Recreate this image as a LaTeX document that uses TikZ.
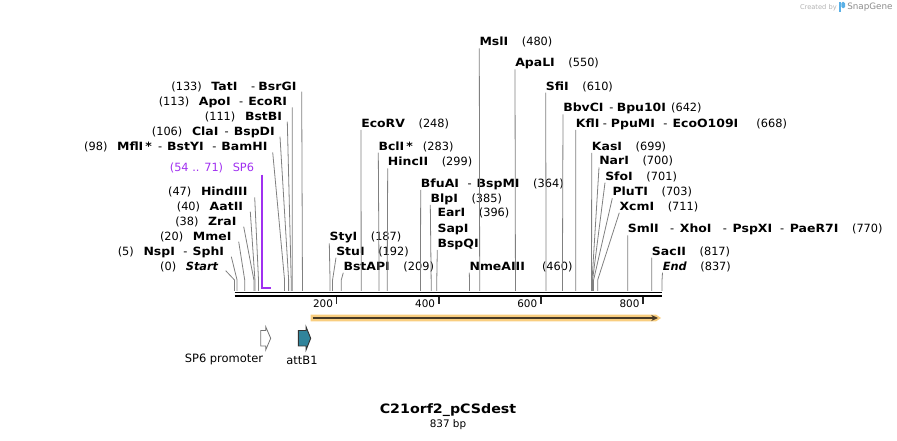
\documentclass[tikz,border=0pt]{standalone}
\usepackage{fontspec}
\setmainfont{DejaVu Sans}[BoldFeatures={FakeStretch=1.1}]
\usetikzlibrary{calc,arrows.meta}

\newcommand{\bp}[1]{234.5+0.5108*#1}
\newcommand{\enz}[1]{\textbf{#1}}
\newcommand{\esep}{\hspace{0.75em}-\hspace{0.45em}}
\newcommand{\atbp}[1]{\hspace{1.2em}(#1)}
\newcommand{\lbp}[1]{(#1)\hspace{0.85em}}

\definecolor{sitegray}{RGB}{128,128,128}
\definecolor{primerpurple}{RGB}{160,48,240}
\definecolor{orfband}{RGB}{249,206,128}
\definecolor{orfdark}{RGB}{72,58,38}
\definecolor{attteal}{RGB}{49,132,155}
\definecolor{snapblue}{RGB}{90,176,230}

\tikzset{
  enzR/.style={anchor=west, inner sep=0pt, text height=7pt, text depth=2pt,
    font=\fontsize{8.5}{10}\selectfont},
  enzL/.style={enzR, anchor=east},
  cut/.style={draw=sitegray, line width=0.6pt},
  primer/.style={draw=primerpurple, line width=1.2pt},
  tickmark/.style={draw=black!85, line width=1.2pt},
  ticklbl/.style={anchor=east, inner sep=0pt, font=\fontsize{7.8}{9}\selectfont},
  featlbl/.style={inner sep=0pt, font=\fontsize{8.6}{10}\selectfont},
}

\begin{document}
\begin{tikzpicture}[x=0.75pt,y=-0.75pt]
  \useasboundingbox (0,0) rectangle (897,441);

  % sites on the sequence
  \coordinate (c0) at ({\bp{0}},291);
  \coordinate (c5) at ({\bp{5}},291);
  \coordinate (c20) at ({\bp{20}},291);
  \coordinate (c38) at ({\bp{38}},291);
  \coordinate (c40) at ({\bp{40}},291);
  \coordinate (c47) at ({\bp{47}},291);
  \coordinate (c54) at ({\bp{54}},288);
  \coordinate (c71) at ({\bp{71}},288);
  \coordinate (c98) at ({\bp{98}},291);
  \coordinate (c106) at ({\bp{106}},291);
  \coordinate (c111) at ({\bp{111}},291);
  \coordinate (c113) at ({\bp{113}},291);
  \coordinate (c133) at ({\bp{133}},291);
  \coordinate (c187) at ({\bp{187}},291);
  \coordinate (c192) at ({\bp{192}},291);
  \coordinate (c209) at ({\bp{209}},291);
  \coordinate (c248) at ({\bp{248}},291);
  \coordinate (c283) at ({\bp{283}},291);
  \coordinate (c299) at ({\bp{299}},291);
  \coordinate (c364) at ({\bp{364}},291);
  \coordinate (c385) at ({\bp{385}},291);
  \coordinate (c396) at ({\bp{396}},291);
  \coordinate (c460) at ({\bp{460}},291);
  \coordinate (c480) at ({\bp{480}},291);
  \coordinate (c550) at ({\bp{550}},291);
  \coordinate (c610) at ({\bp{610}},291);
  \coordinate (c642) at ({\bp{642}},291);
  \coordinate (c668) at ({\bp{668}},291);
  \coordinate (c699) at ({\bp{699}},291);
  \coordinate (c700) at ({\bp{700}},291);
  \coordinate (c701) at ({\bp{701}},291);
  \coordinate (c703) at ({\bp{703}},291);
  \coordinate (c711) at ({\bp{711}},291);
  \coordinate (c770) at ({\bp{770}},291);
  \coordinate (c817) at ({\bp{817}},291);
  \coordinate (c837) at ({\bp{837}},291);

  % enzymes to the right of their line
  \node[enzR] (mslI) at (479.3,42.3) {\enz{MslI}\atbp{480}};
  \node[enzR] (apaLI) at (515,63.5) {\enz{ApaLI}\atbp{550}};
  \node[enzR] (sfiI) at (545.7,86.7) {\enz{SfiI}\atbp{610}};
  \node[enzR] (bbvCI) at (563,108.5) {\enz{BbvCI}\hspace{0.5em}-\hspace{0.3em}\enz{Bpu10I}\hspace{0.45em}(642)};
  \node[enzR] (kflI) at (575.7,124) {\enz{KflI}\hspace{0.3em}-\hspace{0.35em}\enz{PpuMI}\esep\enz{EcoO109I}\hspace{1.6em}(668)};
  \node[enzR] (ecoRV) at (361,124) {\enz{EcoRV}\atbp{248}};
  \node[enzR] (bclI) at (378.3,146.7) {\enz{BclI\,*}\hspace{0.9em}(283)};
  \node[enzR] (kasI) at (591.7,147) {\enz{KasI}\atbp{699}};
  \node[enzR] (hincII) at (387.7,162.3) {\enz{HincII}\atbp{299}};
  \node[enzR] (narI) at (599,161.5) {\enz{NarI}\atbp{700}};
  \node[enzR] (sfoI) at (605,176.7) {\enz{SfoI}\atbp{701}};
  \node[enzR] (bfuAI) at (420.7,184) {\enz{BfuAI}\esep\enz{BspMI}\atbp{364}};
  \node[enzR] (pluTI) at (612.3,192.3) {\enz{PluTI}\atbp{703}};
  \node[enzR] (blpI) at (430.3,199) {\enz{BlpI}\atbp{385}};
  \node[enzR] (xcmI) at (619.3,206.7) {\enz{XcmI}\atbp{711}};
  \node[enzR] (earI) at (437.3,213.5) {\enz{EarI}\atbp{396}};
  \node[enzR] (sapI) at (437.3,229) {\enz{SapI}};
  \node[enzR] (smlI) at (627.7,229.5) {\enz{SmlI}\hspace{1em}-\hspace{0.5em}\enz{XhoI}\hspace{1em}-\hspace{0.5em}\enz{PspXI}\hspace{0.7em}-\hspace{0.5em}\enz{PaeR7I}\atbp{770}};
  \node[enzR] (styI) at (329.3,237.3) {\enz{StyI}\atbp{187}};
  \node[enzR] (bspQI) at (437.3,244) {\enz{BspQI}};
  \node[enzR] (stuI) at (336,251.7) {\enz{StuI}\atbp{192}};
  \node[enzR] (sacII) at (651.7,251.7) {\enz{SacII}\atbp{817}};
  \node[enzR] (bstAPI) at (343.3,266.7) {\enz{BstAPI}\atbp{209}};
  \node[enzR] (nmeAIII) at (469.3,266.7) {\enz{NmeAIII}\hspace{1.5em}(460)};
  \node[enzR] (endL) at (662.5,266.7) {\textbf{\textit{End}}\atbp{837}};

  % enzymes to the left of their line
  \node[enzL] (tatI) at (296.7,86.7) {\lbp{133}\enz{TatI}\hspace{1.2em}-\hspace{0.3em}\enz{BsrGI}};
  \node[enzL] (apoI) at (287.3,102.3) {\lbp{113}\enz{ApoI}\esep\enz{EcoRI}};
  \node[enzL] (bstBI) at (282.3,116.7) {\lbp{111}\enz{BstBI}};
  \node[enzL] (claI) at (275,131.7) {\lbp{106}\enz{ClaI}\hspace{0.55em}-\hspace{0.45em}\enz{BspDI}};
  \node[enzL] (mflI) at (267.7,147.3) {\lbp{98}\enz{MflI\,*}\hspace{0.55em}-\hspace{0.45em}\enz{BstYI}\esep\enz{BamHI}};
  \node[enzL, text=primerpurple] (sp6) at (254.3,168.3) {\lbp{54 .. 71}SP6};
  \node[enzL] (hindIII) at (247.7,192.3) {\lbp{47}\enz{HindIII}};
  \node[enzL] (aatII) at (243.3,206.7) {\lbp{40}\enz{AatII}};
  \node[enzL] (zraI) at (236.7,221.7) {\lbp{38}\enz{ZraI}};
  \node[enzL] (mmeI) at (231.7,236.7) {\lbp{20}\enz{MmeI}};
  \node[enzL] (nspI) at (224.3,251.7) {\lbp{5}\enz{NspI}\esep\enz{SphI}};
  \node[enzL] (startL) at (218.7,266.7) {\lbp{0}\textbf{\textit{Start}}};

  % lines from the labels down to the sites
  \draw[cut] ($(mslI.west)+(0,6)$) -- ($(c480)+(0,-11)$) -- (c480);
  \draw[cut] ($(apaLI.west)+(0,6)$) -- ($(c550)+(0,-11)$) -- (c550);
  \draw[cut] ($(sfiI.west)+(0,6)$) -- ($(c610)+(0,-11)$) -- (c610);
  \draw[cut] ($(bbvCI.west)+(0,6)$) -- ($(c642)+(0,-11)$) -- (c642);
  \draw[cut] ($(kflI.west)+(0,6)$) -- ($(c668)+(0,-11)$) -- (c668);
  \draw[cut] ($(ecoRV.west)+(0,6)$) -- ($(c248)+(0,-11)$) -- (c248);
  \draw[cut] ($(bclI.west)+(0,6)$) -- ($(c283)+(0,-11)$) -- (c283);
  \draw[cut] ($(kasI.west)+(0,6)$) -- ($(c699)+(0,-11)$) -- (c699);
  \draw[cut] ($(hincII.west)+(0,6)$) -- ($(c299)+(0,-11)$) -- (c299);
  \draw[cut] ($(narI.west)+(0,6)$) -- ($(c700)+(0,-11)$) -- (c700);
  \draw[cut] ($(sfoI.west)+(0,6)$) -- ($(c701)+(0,-11)$) -- (c701);
  \draw[cut] ($(bfuAI.west)+(0,6)$) -- ($(c364)+(0,-11)$) -- (c364);
  \draw[cut] ($(pluTI.west)+(0,6)$) -- ($(c703)+(0,-11)$) -- (c703);
  \draw[cut] ($(blpI.west)+(0,6)$) -- ($(c385)+(0,-11)$) -- (c385);
  \draw[cut] ($(xcmI.west)+(0,6)$) -- ($(c711)+(0,-11)$) -- (c711);
  \draw[cut] ($(bspQI.west)+(0,6)$) -- ($(c396)+(0,-11)$) -- (c396);
  \draw[cut] ($(smlI.west)+(0,6)$) -- ($(c770)+(0,-11)$) -- (c770);
  \draw[cut] ($(styI.west)+(0,6)$) -- ($(c187)+(0,-11)$) -- (c187);
  \draw[cut] ($(stuI.west)+(0,6)$) -- ($(c192)+(0,-11)$) -- (c192);
  \draw[cut] ($(sacII.west)+(0,6)$) -- ($(c817)+(0,-11)$) -- (c817);
  \draw[cut] ($(bstAPI.west)+(0,6)$) -- ($(c209)+(0,-11)$) -- (c209);
  \draw[cut] ($(nmeAIII.west)+(0,6)$) -- ($(c460)+(0,-11)$) -- (c460);
  \draw[cut] ($(endL.west)+(0,6)$) -- ($(c837)+(0,-11)$) -- (c837);

  \draw[cut] ($(tatI.east)+(5,5)$) -- ($(c133)+(0,-11)$) -- (c133);
  \draw[cut] ($(apoI.east)+(5,5)$) -- ($(c113)+(0,-11)$) -- (c113);
  \draw[cut] ($(bstBI.east)+(5,5)$) -- ($(c111)+(0,-11)$) -- (c111);
  \draw[cut] ($(claI.east)+(5,5)$) -- ($(c106)+(0,-11)$) -- (c106);
  \draw[cut] ($(mflI.east)+(5,5)$) -- ($(c98)+(0,-11)$) -- (c98);
  \draw[cut] ($(hindIII.east)+(7,5)$) -- ($(c47)+(0,-11)$) -- (c47);
  \draw[cut] ($(aatII.east)+(7,5)$) -- ($(c40)+(0,-11)$) -- (c40);
  \draw[cut] ($(zraI.east)+(7,5)$) -- ($(c38)+(0,-11)$) -- (c38);
  \draw[cut] ($(mmeI.east)+(7,5)$) -- ($(c20)+(0,-11)$) -- (c20);
  \draw[cut] ($(nspI.east)+(7,5)$) -- ($(c5)+(0,-11)$) -- (c5);
  \draw[cut] ($(startL.east)+(7,4)$) -- ($(c0)+(0,-11)$) -- (c0);

  % SP6 primer
  \draw[primer] (c54 |- sp6.south east) -- (c54) -- (c71);

  % the sequence
  \draw[line width=1.3pt] ({\bp{0}},292.4) -- ({\bp{837}},292.4);
  \draw[line width=1.7pt] ({\bp{0}},296.2) -- ({\bp{837}},296.2);

  % ruler
  \draw[tickmark] ({\bp{200}},297.5) -- ++(0,6.5);
  \draw[tickmark] ({\bp{400}},297.5) -- ++(0,6.5);
  \draw[tickmark] ({\bp{600}},297.5) -- ++(0,6.5);
  \draw[tickmark] ({\bp{800}},297.5) -- ++(0,6.5);
  \node[ticklbl] (t200) at ({\bp{200}-3.5},304) {200};
  \node[ticklbl] (t400) at ({\bp{400}-3.5},304) {400};
  \node[ticklbl] (t600) at ({\bp{600}-3.5},304) {600};
  \node[ticklbl] (t800) at ({\bp{800}-3.5},304) {800};

  % open reading frame
  \fill[orfband] (310.7,314.6) -- (656,314.6) -- (661,318) -- (656,321.4) -- (310.7,321.4) -- cycle;
  \draw[orfdark, line width=1.2pt, -{Stealth[length=5pt,width=4.5pt]}] (312.5,318) -- (658,318);

  % features
  \draw[draw=black!55, fill=white, line width=0.6pt] (260.7,330.5) -- (265.7,330.5) -- (265.7,326.7)
    -- (270.7,338.3) -- (265.7,350) -- (265.7,346) -- (260.7,346) -- cycle;
  \draw[draw=black!80, fill=attteal, line width=0.7pt] (298.3,330.5) -- (306,330.5) -- (306,326.7)
    -- (310.7,338.3) -- (306,350) -- (306,346) -- (298.3,346) -- cycle;
  \node[featlbl] (sp6prom) at (224,359.5) {SP6 promoter};
  \node[featlbl] (attB1) at (302,360) {attB1};

  % name and length
  \node[inner sep=0pt, font=\bfseries\fontsize{9.7}{12}\selectfont] (title) at (448,410) {C21orf2\_pCSdest};
  \node[inner sep=0pt, font=\fontsize{7.8}{9}\selectfont] (length) at (448,424.3) {837 bp};

  % credit
  \node[anchor=east, inner sep=0pt, text=black!30, font=\fontsize{5}{6}\selectfont] (credit) at (837,7.3) {Created by};
  \fill[snapblue] (839.3,2) rectangle (841.4,12.5);
  \fill[snapblue, rounded corners=1pt] (841.4,2) rectangle (845,8.2);
  \node[anchor=west, inner sep=0pt, text=black!45, font=\fontsize{6.6}{8}\selectfont] (snapgene) at (847,7.3) {SnapGene};
\end{tikzpicture}
\end{document}
